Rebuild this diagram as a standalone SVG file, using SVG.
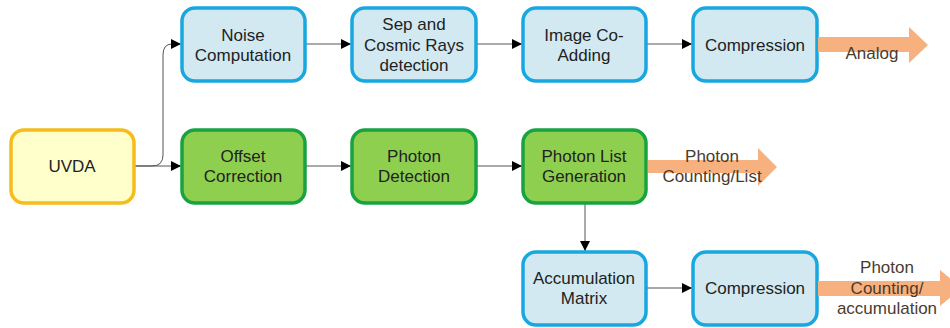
<svg xmlns="http://www.w3.org/2000/svg" width="950" height="328" viewBox="0 0 950 328">
<defs>
<style>
.b{fill:#D3E9F1;stroke:#19A7E0;stroke-width:3.5}
.g{fill:#8FCF4F;stroke:#19A340;stroke-width:3.5}
.y{fill:#FFFFCC;stroke:#F5BC1C;stroke-width:3.5}
text{font-family:"Liberation Sans",Arial,sans-serif;font-size:17px;fill:#222;text-anchor:middle}
.o{fill:#F6B17E}
.ot{fill:#4A3B2E}
.c{fill:none;stroke:#555;stroke-width:1}
</style>
<marker id="ah" viewBox="0 0 10 10" refX="10" refY="5" markerWidth="10" markerHeight="10" markerUnits="userSpaceOnUse" orient="auto">
<path d="M0,0 L10,5 L0,10 z" fill="#000"/>
</marker>
</defs>
<g id="connectors">
<path class="c" d="M135,166 H152 Q163,166 163,155 V55 Q163,44 172,44 H181" marker-end="url(#ah)"/>
<path class="c" d="M135,166 H181" marker-end="url(#ah)"/>
<path class="c" d="M305,44 H351" marker-end="url(#ah)"/>
<path class="c" d="M476,44 H522" marker-end="url(#ah)"/>
<path class="c" d="M646,44 H692" marker-end="url(#ah)"/>
<path class="c" d="M305,166 H351" marker-end="url(#ah)"/>
<path class="c" d="M476,166 H522" marker-end="url(#ah)"/>
<path class="c" d="M585,203 V251" marker-end="url(#ah)"/>
<path class="c" d="M646,288 H692" marker-end="url(#ah)"/>
</g>
<g id="uvda"><rect class="y" x="11" y="130" width="123" height="73" rx="13"/><text x="72" y="172">UVDA</text></g>
<g id="noise"><rect class="b" x="182" y="8" width="123" height="73" rx="13"/><text x="243" y="41">Noise</text><text x="243" y="61">Computation</text></g>
<g id="sep"><rect class="b" x="352" y="8" width="124" height="73" rx="13"/><text x="414" y="30">Sep and</text><text x="414" y="51">Cosmic Rays</text><text x="414" y="71">detection</text></g>
<g id="coadd"><rect class="b" x="523" y="8" width="123" height="73" rx="13"/><text x="584" y="41">Image Co-</text><text x="584" y="61">Adding</text></g>
<g id="comp1"><rect class="b" x="693" y="8" width="124" height="73" rx="13"/><text x="755" y="51">Compression</text></g>
<g id="offset"><rect class="g" x="182" y="130" width="123" height="73" rx="13"/><text x="243" y="162">Offset</text><text x="243" y="182">Correction</text></g>
<g id="photondet"><rect class="g" x="352" y="130" width="124" height="73" rx="13"/><text x="414" y="162">Photon</text><text x="414" y="182">Detection</text></g>
<g id="photonlist"><rect class="g" x="523" y="130" width="123" height="73" rx="13"/><text x="584" y="162">Photon List</text><text x="584" y="182">Generation</text></g>
<g id="accum"><rect class="b" x="523" y="252" width="123" height="73" rx="13"/><text x="584" y="284">Accumulation</text><text x="584" y="304">Matrix</text></g>
<g id="comp2"><rect class="b" x="693" y="252" width="124" height="73" rx="13"/><text x="755" y="294">Compression</text></g>
<g id="out-analog"><path class="o" d="M818,37 H909 V27 L928,45 L909,63 V52 H818 z"/><text class="ot" x="872" y="59">Analog</text></g>
<g id="out-list"><path class="o" d="M648,160 H758 V148 L777,167 L758,186 V173 H648 z"/><text class="ot" x="712" y="162">Photon</text><text class="ot" x="712" y="182">Counting/List</text></g>
<g id="out-accum"><path class="o" d="M818,281 H940 V270 L962,288 L940,306 V296 H818 z"/><text class="ot" x="887" y="273">Photon</text><text class="ot" x="887" y="294">Counting/</text><text class="ot" x="887" y="314">accumulation</text></g>
</svg>
